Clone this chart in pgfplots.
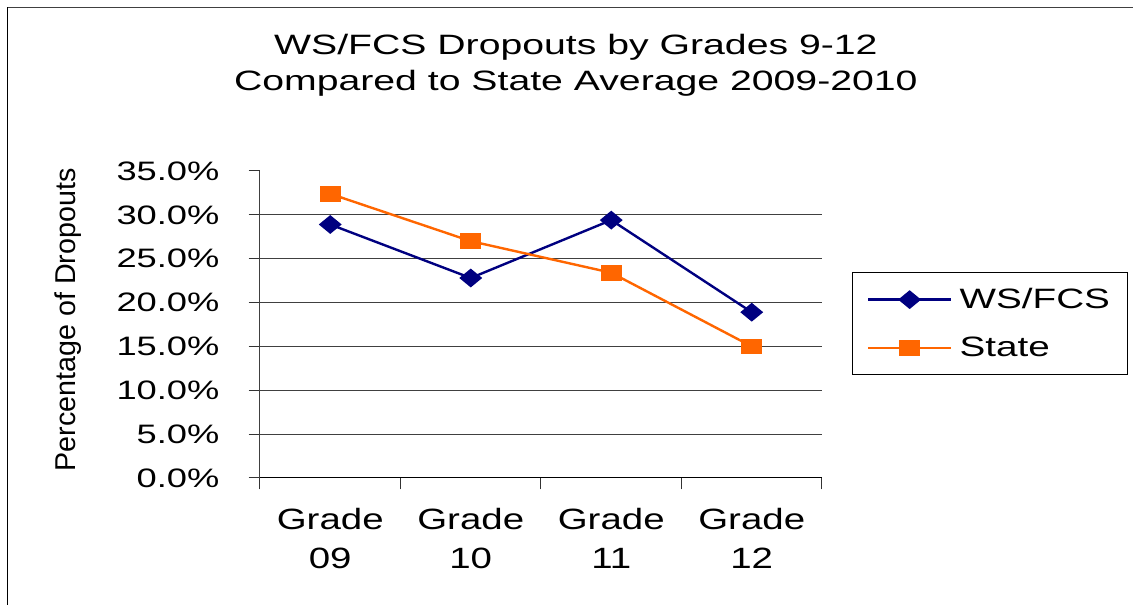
\documentclass[border=0pt]{standalone}
\usepackage{fontspec}
\setmainfont{Liberation Sans}
\usepackage{graphicx}
\usepackage{pgfplots}
\pgfplotsset{compat=1.18}
\definecolor{wsnavy}{RGB}{0,0,128}
\definecolor{storange}{RGB}{255,102,0}
\newcommand{\sx}[2][1.36]{\scalebox{#1}[1]{#2}}
\begin{document}
\begin{tikzpicture}
\useasboundingbox (0,0) rectangle (849.75pt,453.75pt);
\fill[white] (0,0) rectangle (849.75pt,453.75pt);
\draw[black!75, line width=1.1pt] (5.5pt,448.25pt) -- (849.75pt,448.25pt);
\draw[black, line width=0.9pt] (5.5pt,0) -- (5.5pt,448.7pt);
\begin{axis}[
  at={(195pt,95.25pt)}, anchor=south west,
  scale only axis, width=421.5pt, height=230.25pt,
  xmin=0.5, xmax=4.5, ymin=0, ymax=35,
  axis x line=bottom, axis y line=left,
  axis line style={-, line width=0.75pt},
  x axis line style={black},
  y axis line style={black!75},
  tick align=outside,
  major tick length=8.5pt,
  tick style={black!80, line width=0.75pt},
  xtick={0.5,1.5,2.5,3.5,4.5}, xticklabels={},
  extra x ticks={1,2,3,4},
  extra x tick labels={{\sx[1.31]{Grade}\\\sx[1.31]{09}},{\sx[1.31]{Grade}\\\sx[1.31]{10}},{\sx[1.31]{Grade}\\\sx[1.31]{11}},{\sx[1.31]{Grade}\\\sx[1.31]{12}}},
  extra x tick style={major tick length=0pt},
  xticklabel style={anchor=north, inner sep=0pt, align=center, font=\fontsize{22}{29.5}\selectfont, yshift=-22.5pt},
  ytick={0,5,...,35},
  yticklabels={\sx[1.36]{0.0\%},\sx[1.36]{5.0\%},\sx[1.36]{10.0\%},\sx[1.36]{15.0\%},\sx[1.36]{20.0\%},\sx[1.36]{25.0\%},\sx[1.36]{30.0\%},\sx[1.36]{35.0\%}},
  yticklabel style={anchor=east, inner sep=0pt, font=\fontsize{20}{24}\selectfont, xshift=-21.75pt},
  extra y ticks={5,10,15,20,25,30},
  extra y tick labels={},
  extra y tick style={ymajorgrids=true, major tick length=0pt},
  grid style={black!75, line width=0.75pt},
  ylabel={Percentage of Dropouts},
  ylabel style={at={(axis description cs:-0.3416,0.5147)}, anchor=center, font=\fontsize{21.5}{25}\selectfont},
  title={\sx[1.4]{WS/FCS Dropouts by Grades 9-12}\\\sx[1.4]{Compared to State Average 2009-2010}},
  title style={at={(axis description cs:0.562,1.4202)}, anchor=north, inner sep=0pt, align=center, font=\fontsize{21}{26.8}\selectfont},
  legend style={at={(axis description cs:1.053,0.671)}, anchor=north west, draw=black, line width=0.75pt,
    font=\fontsize{21}{25}\selectfont, inner xsep=11pt, inner ysep=10pt, row sep=16pt, cells={anchor=west}},
  legend image code/.code={\draw[mark repeat=2, mark phase=2, #1] plot coordinates {(0pt,0pt) (31.125pt,0pt) (62.25pt,0pt)};},
  clip=false,
]
\addplot[wsnavy, line width=1.8pt, mark=diamond*, mark size=5.9pt, mark options={xscale=1.62, solid}]
  coordinates {(1,28.9) (2,22.8) (3,29.4) (4,18.9)};
\addlegendentry{\hspace{3.5pt}\sx[1.38]{WS/FCS}}
\addplot[storange, line width=1.8pt, mark=square*, mark size=5pt, mark options={xscale=1.4, solid}]
  coordinates {(1,32.4) (2,27.0) (3,23.4) (4,15.0)};
\addlegendentry{\hspace{3.5pt}\sx[1.38]{State}}
\end{axis}
\end{tikzpicture}
\end{document}
